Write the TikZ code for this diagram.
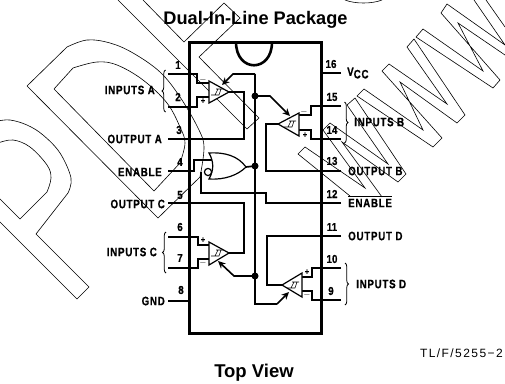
\documentclass[tikz,border=0pt]{standalone}
\usepackage{fontspec}
\setmainfont{Liberation Sans}
\newfontfamily\lblfont[FakeStretch=0.8,LetterSpace=6,FakeBold=0.6]{Liberation Sans Bold}
\newfontfamily\numfont[FakeStretch=0.85,FakeBold=0.6]{Liberation Sans Bold}
\newfontfamily\ttlfont{Liberation Sans Bold}
\newfontfamily\tlfont[LetterSpace=12]{Liberation Sans}
\usetikzlibrary{arrows.meta,decorations.pathreplacing}
\tikzset{
  x=1pt,y=-1pt,
  wm/.style={line width=0.6pt,black},
  chip/.style={line width=3pt,line cap=rect},
  wire/.style={line width=1.7pt,line join=miter},
  stub/.style={line width=2.1pt},
  tri/.style={line width=1.2pt,fill=white,line join=miter},
  pow/.style={line width=1.6pt,-{Stealth[length=7.5pt,width=7pt]}},
  brc/.style={line width=0.8pt,decorate,decoration={brace,amplitude=3.5pt,aspect=0.5}},
  lbl/.style={font=\lblfont\fontsize{12.2}{13}\selectfont,inner sep=0pt},
  num/.style={font=\numfont\fontsize{11.5}{13}\selectfont,inner sep=0pt},
  sgn/.style={font=\numfont\fontsize{9}{10}\selectfont,inner sep=0pt},
  jn/.style={circle,fill=black,inner sep=0pt,minimum size=7pt},
  hys/.style={line width=0.6pt}
}
\newcommand{\hystsym}[2]{\draw[hys] (#1-6,#2+3)--(#1-2,#2+3)--(#1+1,#2-3)--(#1+6,#2-3) (#1-3,#2+3)--(#1+2,#2+3)--(#1+4,#2-3)--(#1-1,#2-3);}
\begin{document}
\begin{tikzpicture}
\useasboundingbox (0,0) rectangle (505,383);
% watermark
\begin{scope}
\clip (0,0) rectangle (505,383);
\draw[wm] plot[smooth,tension=0.6] coordinates {(67,47)(87,40)(110,43)(133,53)(160,72)(180,97)(198,128)(204,147)(200,177)};
\draw[wm] (27,86)--(67,47) (27,86)--(158,218)--(200,177);
\draw[wm] plot[smooth,tension=0.6] coordinates {(73,68)(97,62)(117,65)(143,80)(167,103)(180,127)(185,143)(180,163)};
\draw[wm] (54,89)--(73,68) (54,89)--(154,191)--(180,163);
\draw[wm] plot[smooth,tension=0.6] coordinates {(-2,121)(10,120)(27,125)(43,135)(60,153)(71,178)(68,193)};
\draw[wm] (68,193)--(36,234)--(89,287)--(77,299)--(-2,220);
\draw[wm] plot[smooth,tension=0.6] coordinates {(-2,143)(13,140)(30,147)(47,165)(51,178)(47,192)};
\draw[wm] (47,192)--(20,219)--(-2,197);
\draw[wm] (143,0)--(184,42)--(224,3)--(240,18)--(199,57)--(259,118)--(247,129)--(118,0);
\draw[wm] (345,0) .. controls (355,4) and (372,4) .. (382,0);
% W's
\draw[wm] (350,196)--(298,154)--(305,147)--(365,188)--(323,130)--(330,123)--(388,164)--(347,105)--(355,98)--(406,174)--(398,182)--(342,142)--(382,197);
\draw[wm] (357,96)--(364,89)--(423,130)--(400,82)--(457,123)--(465,115)--(414,39)--(407,47)--(447,104)--(389,64)--(382,71)--(442,138)--(433,147)--cycle;
\draw[wm] (505,55)--(458,23)--(483,71)--(423,29)--(416,37)--(493,88)--(500,80)--(441,13)--(447,4)--(505,45)--(474,0);
\draw[wm] (486,0)--(505,27);
\end{scope}
% chip pin coordinates
\foreach \n/\yy in {1/74,2/107,3/139,4/171,5/203,6/237,7/268,8/301}{
  \coordinate (p\n) at (189,\yy); \coordinate (s\n) at (168,\yy);
}
\foreach \n/\yy in {16/73,15/106,14/139,13/171,12/203,11/236,10/268,9/300}{
  \coordinate (p\n) at (321,\yy); \coordinate (s\n) at (341,\yy);
}
\coordinate (ja) at (255,96);
\coordinate (jg) at (255,166);
\coordinate (jc) at (255,276);
% wires
\draw[wire] (255,74)--(255,304)--(277,304);
\draw[wire] (p1)--(197,74)--(197,83)--(209,83);
\draw[wire] (p2)--(197,107)--(197,97)--(209,97);
\draw[wire] (229,92)--(244,92)--(244,139)--(p3);
\draw[wire] (p4)--(194,171)--(194,160)--(212,160);
\draw[wire] (201,172)--(201,193)--(266,193)--(266,203)--(p12);
\draw[wire] (229,253)--(244,253)--(244,203)--(p5);
\draw[wire] (p6)--(198,237)--(198,245)--(209,245);
\draw[wire] (p7)--(198,268)--(198,259)--(209,259);
\draw[wire] (p15)--(311,106)--(311,115)--(299,115);
\draw[wire] (p14)--(311,139)--(311,130)--(299,130);
\draw[wire] (278,124)--(266,124)--(266,171)--(p13);
\draw[wire] (282,285)--(267,285)--(267,236)--(p11);
\draw[wire] (p10)--(312,268)--(312,277)--(302,277);
\draw[wire] (p9)--(312,300)--(312,291)--(302,291);
\draw[wire] (246,167)--(jg);
% comparators
\draw[tri] (209,81)--(229,92)--(209,103)--cycle;
\draw[tri] (209,242)--(229,253)--(209,265)--cycle;
\draw[tri] (299,113)--(278,124)--(299,136)--cycle;
\draw[tri] (302,273)--(282,285)--(302,297)--cycle;
\hystsym{217}{92}\hystsym{217}{253}\hystsym{290}{124}\hystsym{293}{285}
% power arrows
\draw[pow] (255,74)--(233,74)--(222,85);
\draw[pow] (ja)--(270,96)--(290,116);
\draw[pow] (jc)--(234,276)--(218,261);
\draw[pow] (277,304)--(289,292);
% NOR gate
\draw[line width=1.2pt,fill=white] (209,153) .. controls (225,152) and (238,156) .. (246,167) .. controls (238,175) and (225,180) .. (209,179) .. controls (214,170) and (214,162) .. (209,153) -- cycle;
\draw[line width=1.2pt,fill=white] (208,172) circle (3.6);
% junctions
\node[jn] (nja) at (ja) {};
\node[jn] (njg) at (jg) {};
\node[jn] (njc) at (jc) {};
% chip and stubs
\draw[chip] (189,42) -- (189,333) -- (321,333) -- (321,42) -- cycle;
\draw[line width=2.6pt] (236,42) .. controls (236,73) and (272,73) .. (272,42);
\foreach \n in {1,...,16}{\draw[stub] (s\n)--(p\n);}
% braces
\draw[brc] (165.5,112)--(165.5,70);
\draw[brc] (166,273)--(166,232);
\draw[brc] (344.5,102)--(344.5,143);
\draw[brc] (345,263)--(345,305);
% pin numbers
\foreach \t/\xx/\yy in {1/178/65,2/178/97,3/179/130,4/180/162,5/180/195,6/180/227,7/180/258,8/181/290,16/331/64,15/332/97,14/332/130,13/332/161,12/332/194,11/332/227,10/332/259,9/331/291}{
  \node[num] (n\t) at (\xx,\yy) {\t};
}
% labels
\node[lbl,anchor=east] (l1) at (155,90) {INPUTS A};
\node[lbl,anchor=east] (l2) at (162,139) {OUTPUT A};
\node[lbl,anchor=east] (l3) at (162,172) {ENABLE};
\node[lbl,anchor=east] (l4) at (165,204) {OUTPUT C};
\node[lbl,anchor=east] (l5) at (157,252) {INPUTS C};
\node[lbl,anchor=east] (l6) at (165,301) {GND};
\node[lbl,anchor=west] (l7) at (347,73) {V\raisebox{-2.5pt}{CC}};
\node[lbl,anchor=west] (l8) at (354,122) {INPUTS B};
\node[lbl,anchor=west] (l9) at (348,171) {OUTPUT B};
\node[lbl,anchor=west] (l10) at (348,203) {ENABLE};
\draw[line width=0.8pt] (348,196.5)--(392,196.5);
\node[lbl,anchor=west] (l11) at (348,236) {OUTPUT D};
\node[lbl,anchor=west] (l12) at (356,284) {INPUTS D};
% signs
\foreach \t/\s/\xx/\yy in {a/$-$/203/80,b/+/203/101,c/$-$/304/112,d/+/305/135,e/+/203/240,f/$-$/203/263,g/+/307/272,h/$-$/307/295}{
  \node[sgn] (sg\t) at (\xx,\yy) {\s};
}
% titles
\node[font=\ttlfont\fontsize{18.2}{20}\selectfont,inner sep=0pt] (title) at (255.5,19.5) {Dual-In-Line Package};
\node[font=\ttlfont\fontsize{18.5}{20}\selectfont,inner sep=0pt] (view) at (254,373) {Top View};
\node[font=\tlfont\fontsize{12}{14}\selectfont,inner sep=0pt,anchor=east] (tl) at (503,353) {TL/F/5255−2};
\end{tikzpicture}
\end{document}
